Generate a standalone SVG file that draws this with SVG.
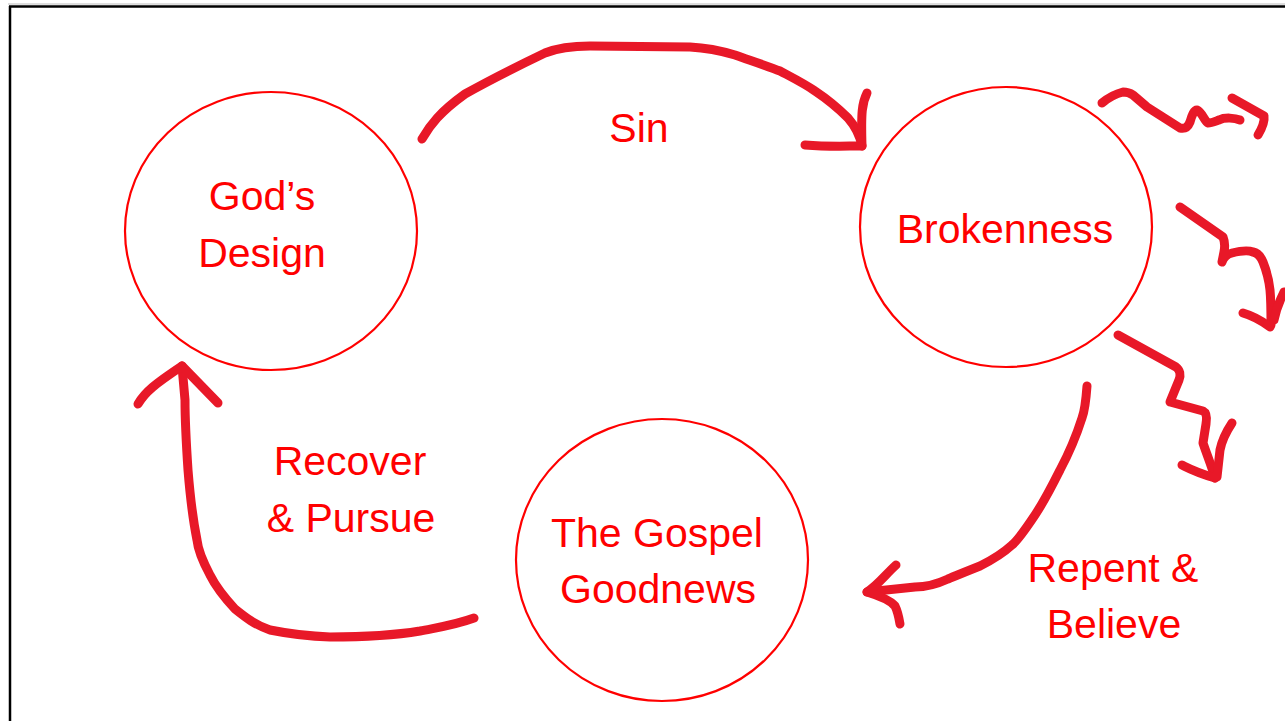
<svg xmlns="http://www.w3.org/2000/svg" width="1285" height="721" viewBox="0 0 1285 721">
<style>
.node ellipse{fill:none;stroke:#ff0000;stroke-width:2.2}
text{font-family:"Liberation Sans",Arial,sans-serif;font-size:41px;fill:#ff0000;text-anchor:middle}
.conn path{fill:none;stroke:#e81828;stroke-width:9;stroke-linecap:round;stroke-linejoin:round}
</style>
<rect width="1285" height="721" fill="#ffffff"/>
<line x1="8" y1="4" x2="1285" y2="4" stroke="#bbbbbb" stroke-width="1"/>
<line x1="9" y1="6.5" x2="1285" y2="6.5" stroke="#000000" stroke-width="2.5"/>
<line x1="10" y1="6" x2="10" y2="721" stroke="#000000" stroke-width="2.5"/>
<g id="gods-design" class="node">
<ellipse cx="271" cy="231" rx="146" ry="139"/>
<text x="262" y="210">God’s</text>
<text x="262" y="267">Design</text>
</g>
<g id="brokenness" class="node">
<ellipse cx="1006" cy="227" rx="146" ry="140"/>
<text x="1005" y="243">Brokenness</text>
</g>
<g id="gospel" class="node">
<ellipse cx="662" cy="560" rx="146" ry="141"/>
<text x="657" y="547">The Gospel</text>
<text x="658" y="603">Goodnews</text>
</g>
<g id="connectors" class="conn">
<path d="M422,139 C430,125 440,112 465,94 C490,80 520,65 545,53 C560,47 575,46 590,46 L690,47 C710,48 725,52 735,55 C755,62 770,67 780,71 C795,79 805,84 815,91 C830,101 840,110 848,118 C855,126 860,136 862,146"/>
<path d="M867,93 C862,103 861,112 862,146 M805,145 C830,147 845,146 862,146"/>
<text x="639" y="142">Sin</text>
<path d="M474,618 C455,625 440,627 420,631 C390,636 360,637 330,637 C300,636 280,632 270,630 C255,625 245,617 235,609 C222,595 215,585 210,575 C202,560 198,550 197,540 C192,515 190,495 188,470 C186,440 185,420 185,400 L182,366"/>
<path d="M138,404 C145,392 155,384 182,366 L218,403"/>
<text x="350" y="475">Recover</text>
<text x="351" y="532">&amp; Pursue</text>
<path d="M1087,386 C1086,400 1085,410 1082,418 C1075,440 1068,455 1060,470 C1050,490 1043,503 1035,515 C1025,530 1018,540 1012,545 C1000,556 990,561 980,566 C965,572 955,576 948,579 C935,585 925,587 915,587 L867,592"/>
<path d="M896,565 C885,575 878,585 867,592 C880,596 890,600 895,606 C898,612 899,618 900,624"/>
<text x="1113" y="582">Repent &amp;</text>
<text x="1114" y="638">Believe</text>
<path d="M1102,103 C1108,98 1115,94 1123,92 C1128,92 1130,93 1133,95 L1147,107 L1180,128 C1185,129 1188,127 1190,122 C1192,115 1194,110 1197,110 C1202,112 1205,122 1208,123 C1212,123 1216,121 1219,120 C1225,117 1235,118 1240,120"/>
<path d="M1232,98 L1264,116 C1265,123 1261,130 1258,135"/>
<path d="M1180,207 L1223,237 C1225,242 1225,247 1224,252 L1222,262 C1224,256 1228,254 1232,253 C1240,251 1248,250 1253,252 C1258,253 1261,257 1263,262 C1267,272 1269,280 1270,290 C1271,300 1271,312 1271,325"/>
<path d="M1243,313 C1250,315 1258,318 1270,327 M1284,292 C1280,300 1276,310 1274,320"/>
<path d="M1118,335 L1176,367 C1180,370 1181,375 1179,380 L1170,402 L1203,411 C1207,413 1207,418 1206,424 L1203,443 C1207,455 1212,467 1215,478"/>
<path d="M1182,465 C1190,469 1195,472 1215,478 M1232,423 C1226,432 1222,440 1220,450 L1217,477"/>
</g>
</svg>
